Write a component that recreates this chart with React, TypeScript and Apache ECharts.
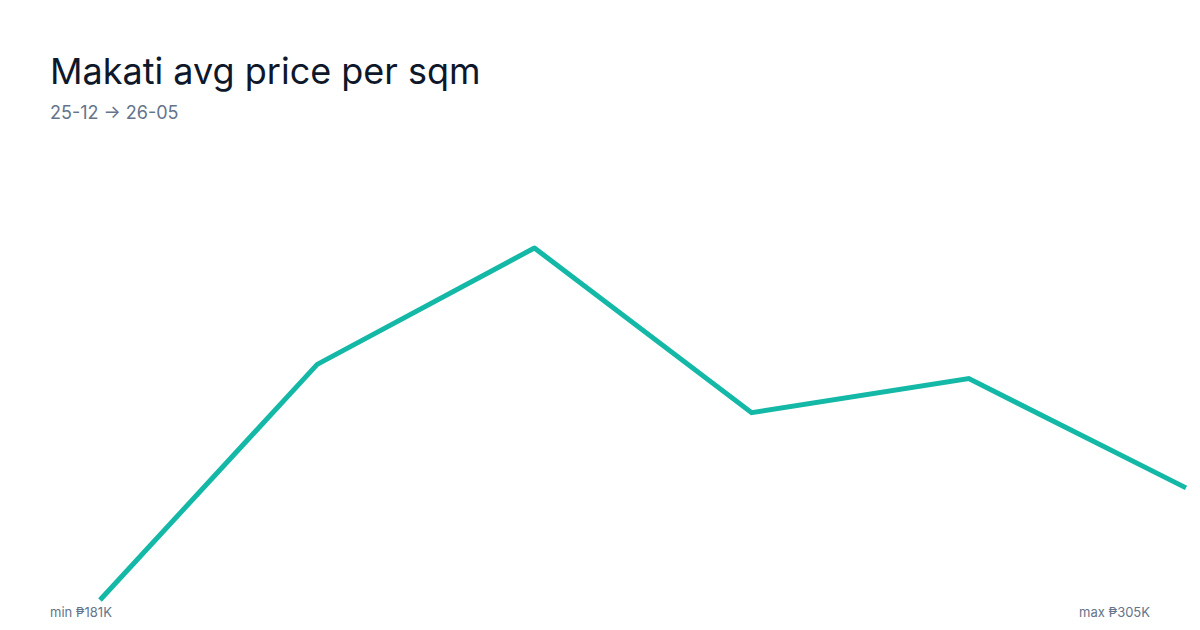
import { useEffect, useRef } from 'react';
import * as echarts from 'echarts';

const months = ['2025-12', '2026-01', '2026-02', '2026-03', '2026-04', '2026-05'];
const avgPrice = [181000, 264000, 305000, 247000, 259000, 220500];
const titleText = 'Makati avg price per sqm';
const subtitleText = '25-12 → 26-05';
const minLabel = 'min ₱181K';
const maxLabel = 'max ₱305K';

export default function App() {
  const chartRef = useRef<HTMLDivElement>(null);

  useEffect(() => {
    if (!chartRef.current) return;
    const chart = echarts.init(chartRef.current, null, { renderer: 'svg' });

    const option: echarts.EChartsOption = {
      animation: false,
      backgroundColor: '#ffffff',
      textStyle: { fontFamily: 'Inter' },
      grid: { left: 100, right: 14, top: 248, bottom: 30 },
      xAxis: {
        type: 'category',
        data: months,
        boundaryGap: false,
        show: false,
      },
      yAxis: {
        type: 'value',
        min: 'dataMin',
        max: 'dataMax',
        show: false,
      },
      series: [
        {
          type: 'line',
          data: avgPrice,
          symbol: 'none',
          lineStyle: { color: '#14b8a6', width: 5, cap: 'butt', join: 'miter' },
        },
      ],
      graphic: [
        {
          type: 'text',
          left: 50,
          top: 53,
          style: { text: titleText, font: '36px Inter', fill: '#0f172a' },
        },
        {
          type: 'text',
          left: 50,
          top: 103,
          style: { text: subtitleText, font: '18px Inter', fill: '#64748b' },
        },
        {
          type: 'text',
          left: 50,
          top: 605,
          style: { text: minLabel, font: '13px Inter', fill: '#64748b' },
        },
        {
          type: 'text',
          right: 50,
          top: 605,
          style: { text: maxLabel, font: '13px Inter', fill: '#64748b' },
        },
      ],
    };

    chart.setOption(option);
    return () => chart.dispose();
  }, []);

  return <div ref={chartRef} style={{ width: 1200, height: 630, margin: -8 }} />;
}
